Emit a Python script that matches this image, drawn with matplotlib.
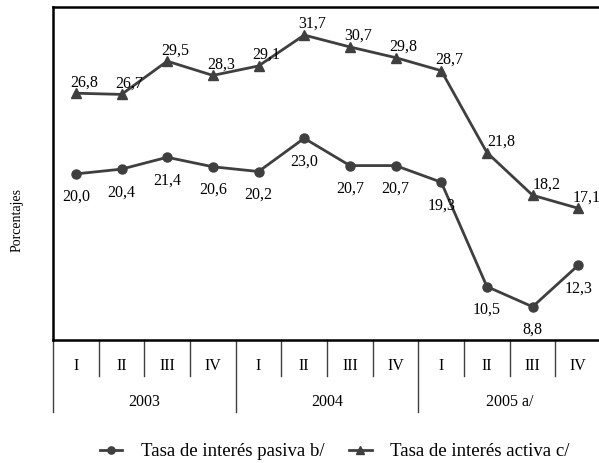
import matplotlib.pyplot as plt

plt.rcParams['font.family'] = ['Liberation Serif', 'DejaVu Serif']

quarters = ['I', 'II', 'III', 'IV'] * 3
years = ['2003', '2004', '2005 a/']
pasiva = [20.0, 20.4, 21.4, 20.6, 20.2, 23.0, 20.7, 20.7, 19.3, 10.5, 8.8, 12.3]
activa = [26.8, 26.7, 29.5, 28.3, 29.1, 31.7, 30.7, 29.8, 28.7, 21.8, 18.2, 17.1]
pasiva_label = 'Tasa de interés pasiva b/'
activa_label = 'Tasa de interés activa c/'

color = '#3f3f3f'
fig = plt.figure(figsize=(5.99, 4.63), dpi=100)
ax = fig.add_axes([0.0885, 0.2657, 0.915, 0.719])

x = list(range(len(pasiva)))
ax.plot(x, pasiva, color=color, lw=2, marker='o', ms=6.5, label=pasiva_label)
ax.plot(x, activa, color=color, lw=2, marker='^', ms=6.5, label=activa_label)

def fmt(v):
    return f'{v:.1f}'.replace('.', ',')

for i, v in enumerate(pasiva):
    ax.annotate(fmt(v), (i, v), xytext=(0, -23), textcoords='offset pixels',
                ha='center', va='center', fontsize=11.5)
for i, v in enumerate(activa):
    dx = 8
    if i in (9, 10):
        dx = 14
    ax.annotate(fmt(v), (i, v), xytext=(dx, 11), textcoords='offset pixels',
                ha='center', va='center', fontsize=11.5, annotation_clip=False)

ax.set_xlim(-0.5, len(x) - 0.5)
ax.set_ylim(6.0, 34.06)
ax.set_xticks([])
ax.set_yticks([])
for s in ['top', 'left', 'bottom']:
    ax.spines[s].set_linewidth(1.8)
ax.spines['right'].set_visible(False)

# category table under the axis
tr = ax.get_xaxis_transform()
for k in range(len(x)):
    bottom = -0.216 if k % 4 == 0 else -0.108
    ax.plot([k - 0.5, k - 0.5], [0, bottom], color=color, lw=1, transform=tr, clip_on=False)
    ax.text(k, -0.078, quarters[k], transform=tr, ha='center', va='center', fontsize=11.5)
for j, y in enumerate(years):
    ax.text(j * 4 + 1.5, -0.186, y, transform=tr, ha='center', va='center', fontsize=11.5)

fig.text(17 / 599, 1 - 220 / 463, 'Porcentajes', rotation=90, ha='center', va='center', fontsize=10)

fig.legend(loc='center', bbox_to_anchor=(0.559, 0.024), ncol=2, frameon=False,
           fontsize=13.5, handlelength=1.2, columnspacing=1.3, handletextpad=1.0,
           markerscale=0.8)

plt.savefig('out.png', dpi=100)
